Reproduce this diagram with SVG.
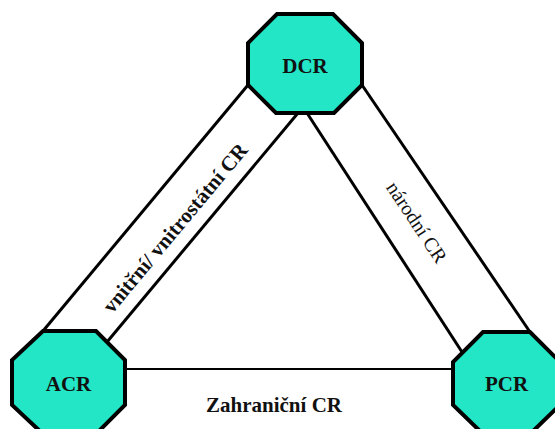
<svg xmlns="http://www.w3.org/2000/svg" width="555" height="429" viewBox="0 0 555 429">
<style>
.oct{fill:#22E6C6;stroke:#000;stroke-width:4;stroke-linejoin:miter}
.band{stroke:#000;stroke-width:3;fill:none}
.link{stroke:#000;stroke-width:2;fill:none}
.lbl{font-family:"Liberation Serif","Times New Roman",serif;font-weight:bold;font-size:21px;fill:#111;text-anchor:middle}
.lblr{font-family:"Liberation Serif","Times New Roman",serif;font-size:20px;fill:#111;text-anchor:middle}
</style>
<rect width="555" height="429" fill="#fff"/>
<g id="connectors">
<line class="band" x1="43" y1="331" x2="248" y2="85"/>
<line class="band" x1="107" y1="342" x2="298" y2="113"/>
<line class="band" x1="307" y1="113" x2="462" y2="352"/>
<line class="band" x1="362" y1="85" x2="530" y2="332"/>
<line class="link" x1="125" y1="369" x2="453" y2="369"/>
<text class="lbl" transform="translate(175,228) rotate(-50.2)" x="0" y="7">vnitřní/ vnitrostátní CR</text>
<text class="lblr" transform="translate(417,222) rotate(56.5)" x="0" y="7">národní CR</text>
<text class="lbl" x="274" y="412">Zahraniční CR</text>
</g>
<g id="DCR">
<polygon class="oct" points="277,14 333,14 362,43 362,85 334,113 276,113 248,85 248,43"/>
<text class="lbl" x="305" y="73">DCR</text>
</g>
<g id="ACR">
<polygon class="oct" points="43,331 96,331 125,360 125,405 96,434 43,434 12,405 12,360"/>
<text class="lbl" x="68.5" y="391">ACR</text>
</g>
<g id="PCR">
<polygon class="oct" points="483,332 530,332 560,362 560,405 530,434 483,434 453,405 453,362"/>
<text class="lbl" x="506.5" y="391">PCR</text>
</g>
</svg>
